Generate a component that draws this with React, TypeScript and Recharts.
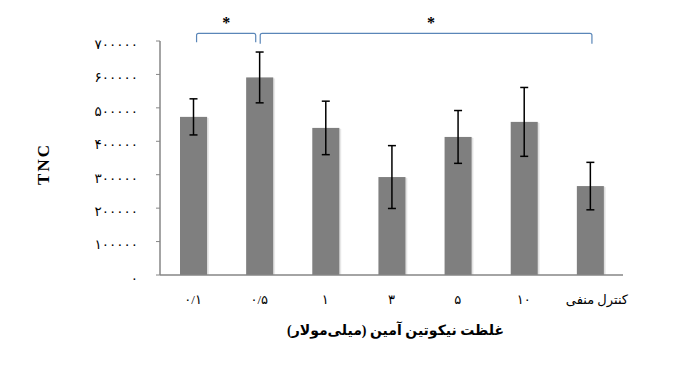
import { BarChart, Bar, XAxis, YAxis, ErrorBar, ReferenceLine, Label } from 'recharts';

// concentrations (mM) + negative control
const categories = ['۰/۱', '۰/۵', '۱', '۳', '۵', '۱۰', 'کنترل منفی'];
const tncMeans = [473000, 591000, 440000, 293000, 413000, 458000, 266000];
const tncErrors = [54000, 76000, 80000, 94000, 79000, 103000, 71000];
const yTicks = [0, 100000, 200000, 300000, 400000, 500000, 600000, 700000];

// significance brackets drawn above the bars
const bracketLevel = 723000;
const brackets = [
  { from: '۰/۱', to: '۰/۵', mark: '*' },
  { from: '۰/۵', to: 'کنترل منفی', mark: '*' },
];

const FA_DIGITS = '۰۱۲۳۴۵۶۷۸۹';
const toFa = (v: number | string) => String(v).replace(/\d/g, (d) => FA_DIGITS[+d]);

const data = categories.map((name, i) => ({ name, tnc: tncMeans[i], err: tncErrors[i] }));

const AXIS_GRAY = '#868686';
const BAR_GRAY = '#7f7f7f';
const BRACKET_BLUE = '#5a86b8';
const FONT = "'Liberation Serif', 'DejaVu Sans', serif";

// bar with a soft excel-like shadow on the right
function ShadowBar(props: any) {
  const { x, y, width, height } = props;
  if (height <= 0) return null;
  return (
    <g>
      <rect x={x + 2} y={y + 1} width={width} height={height - 1} fill="#000" opacity={0.08} />
      <rect x={x + 1} y={y} width={width} height={height} fill="#000" opacity={0.06} />
      <rect x={x} y={y} width={width} height={height} fill={BAR_GRAY} />
    </g>
  );
}

function makeBracket(insetL: number, insetR: number, markDx: number, leg: number, mark: string) {
  return function BracketShape(props: any) {
    const { x1, y1, x2 } = props;
    const xl = x1 + insetL;
    const xr = x2 - insetR;
    const yt = y1;
    const yb = y1 + leg;
    const r = 2;
    const d = `M${xl},${yb} L${xl},${yt + r} Q${xl},${yt} ${xl + r},${yt} L${xr - r},${yt} Q${xr},${yt} ${xr},${yt + r} L${xr},${yb}`;
    return (
      <g>
        <path d={d} fill="none" stroke={BRACKET_BLUE} strokeWidth={1.2} />
        <text
          x={(xl + xr) / 2 + markDx}
          y={yt - 5}
          textAnchor="middle"
          fontFamily={FONT}
          fontWeight="bold"
          fontSize={16}
          fill="#000"
        >
          {mark}
        </text>
      </g>
    );
  };
}

const bracketStyle = [
  { insetL: 3.5, insetR: 3.5, markDx: 0, leg: 9 },
  { insetL: 1, insetR: -2, markDx: 5, leg: 10.5 },
];

// x tick: the long control label sits a little right of its bar, as in the source
function XTick(props: any) {
  const { x, y, payload } = props;
  const long = String(payload.value).length > 4;
  return (
    <text
      x={x + (long ? 7 : 0)}
      y={y}
      dy="0.71em"
      textAnchor="middle"
      fontFamily={FONT}
      fontSize={13}
      fill="#000"
    >
      {payload.value}
    </text>
  );
}

export default function App() {
  return (
    <div style={{ position: 'absolute', left: 0, top: 0, width: 686, height: 376, background: '#fff' }}>
      <BarChart
        width={686}
        height={376}
        data={data}
        margin={{ top: 41, right: 63, bottom: 71, left: 0 }}
      >
        <XAxis
          dataKey="name"
          height={30}
          axisLine={{ stroke: AXIS_GRAY, strokeWidth: 1.5 }}
          tickLine={false}
          tickMargin={14}
          tick={<XTick />}
          interval={0}
        >
          <Label
            content={(p: any) => {
              const vb = p.viewBox;
              return (
                <text
                  x={vb.x + vb.width / 2 + 4}
                  y={332}
                  textAnchor="middle"
                  dominantBaseline="middle"
                  fontFamily={FONT}
                  fontWeight="bold"
                  fontSize={14}
                  fill="#000"
                >
                  غلظت نیکوتین آمین (میلی‌مولار)
                </text>
              );
            }}
          />
        </XAxis>
        <YAxis
          width={160}
          domain={[0, 700000]}
          ticks={yTicks}
          interval={0}
          axisLine={{ stroke: AXIS_GRAY, strokeWidth: 1.5 }}
          tickLine={{ stroke: AXIS_GRAY }}
          tickSize={4}
          tickMargin={18}
          tickFormatter={(v) => toFa(v)}
          tick={{ fill: '#000', fontSize: 13.5, fontFamily: FONT, dy: 3 }}
        >
          <Label
            content={(p: any) => {
              const vb = p.viewBox;
              const cx = 45;
              const cy = vb.y + vb.height / 2 + 6;
              return (
                <text
                  x={cx}
                  y={cy}
                  transform={`rotate(-90 ${cx} ${cy})`}
                  textAnchor="middle"
                  dominantBaseline="middle"
                  fontFamily={FONT}
                  fontWeight="bold"
                  fontSize={17}
                  letterSpacing={2}
                  fill="#000"
                >
                  TNC
                </text>
              );
            }}
          />
        </YAxis>
        <Bar dataKey="tnc" barSize={27} fill={BAR_GRAY} shape={<ShadowBar />} isAnimationActive={false}>
          <ErrorBar dataKey="err" width={4} stroke="#000" strokeWidth={1.5} isAnimationActive={false} />
        </Bar>
        {brackets.map((b, i) => {
          const s = bracketStyle[i];
          return (
            <ReferenceLine
              key={i}
              segment={[
                { x: b.from, y: bracketLevel },
                { x: b.to, y: bracketLevel },
              ]}
              ifOverflow="visible"
              shape={makeBracket(s.insetL, s.insetR, s.markDx, s.leg, b.mark)}
            />
          );
        })}
      </BarChart>
    </div>
  );
}
